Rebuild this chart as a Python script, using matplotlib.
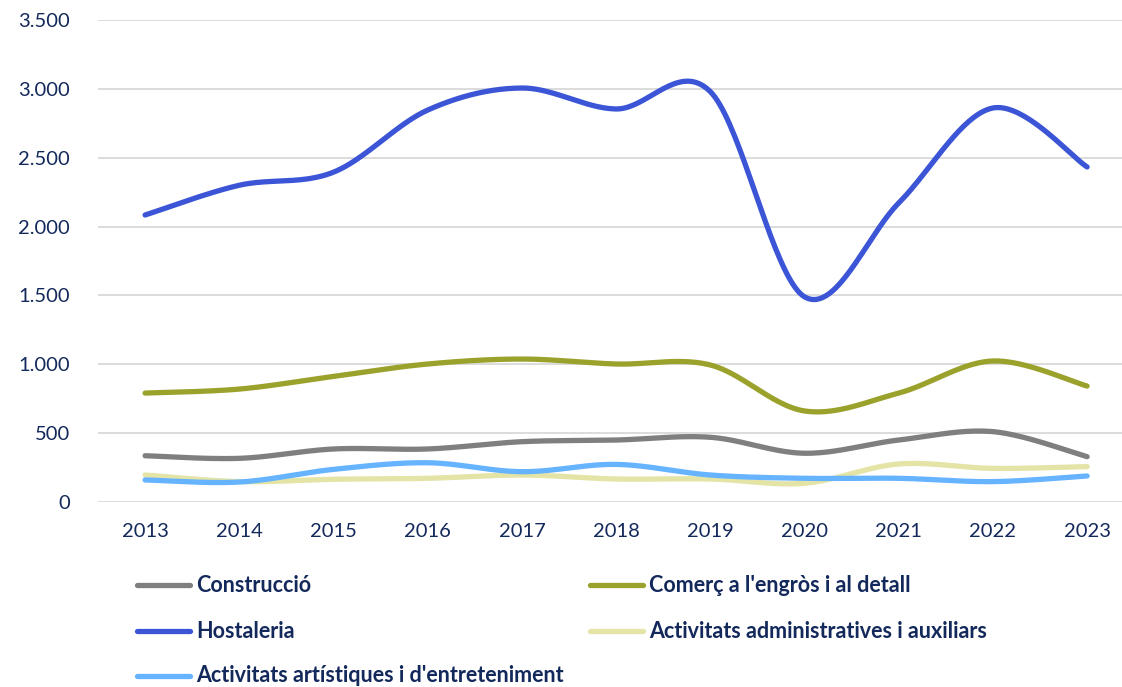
import numpy as np
import matplotlib
matplotlib.use("Agg")
import matplotlib.pyplot as plt
from matplotlib.lines import Line2D

years = ["2013", "2014", "2015", "2016", "2017", "2018", "2019", "2020", "2021", "2022", "2023"]

construccio = [336, 317, 385, 385, 438, 450, 470, 354, 450, 511, 329]
comerc = [791, 820, 912, 1002, 1038, 1002, 995, 661, 791, 1024, 842]
hostaleria = [2084, 2300, 2395, 2846, 3006, 2854, 2980, 1490, 2171, 2861, 2433]
administratives = [196, 148, 165, 172, 196, 167, 167, 136, 276, 244, 257]
artistiques = [160, 145, 237, 285, 220, 273, 196, 172, 172, 148, 189]

series = [
    ("Construcció", construccio, "#7F7F7F"),
    ("Comerç a l'engròs i al detall", comerc, "#9BA22C"),
    ("Hostaleria", hostaleria, "#3B55D6"),
    ("Activitats administratives i auxiliars", administratives, "#E3E4A6"),
    ("Activitats artístiques i d'entreteniment", artistiques, "#66B3FF"),
]

text_color = "#13295B"


def smooth(xs, ys, n=40):
    pts = np.column_stack([xs, ys]).astype(float)
    out = []
    m = len(pts)
    for i in range(m - 1):
        p0 = pts[i]
        p3 = pts[i + 1]
        prev = pts[i - 1] if i > 0 else pts[i]
        nxt = pts[i + 2] if i + 2 < m else pts[i + 1]
        c1 = p0 + (p3 - prev) / 6.0
        c2 = p3 - (nxt - p0) / 6.0
        t = np.linspace(0, 1, n)[:, None]
        seg = ((1 - t) ** 3) * p0 + 3 * ((1 - t) ** 2) * t * c1 + 3 * (1 - t) * t ** 2 * c2 + t ** 3 * p3
        if i > 0:
            seg = seg[1:]
        out.append(seg)
    out = np.vstack(out)
    return out[:, 0], out[:, 1]


W, H = 1122, 687
fig = plt.figure(figsize=(W / 100, H / 100), dpi=100)
ax = fig.add_axes([98 / W, (H - 502) / H, (W - 98) / W, (502 - 20) / H])

x = np.arange(len(years))
for name, vals, col in series:
    sx, sy = smooth(x, vals)
    ax.plot(sx, sy, color=col, lw=3.8, solid_capstyle="round", solid_joinstyle="round")

ax.set_xlim(-0.5, (W - 98) / 94.2 - 0.5)
ax.set_ylim(0, 3500)
ax.set_yticks(np.arange(0, 3501, 500))
ax.set_yticklabels([f"{v:,}".replace(",", ".") for v in range(0, 3501, 500)])
ax.set_xticks(x)
ax.set_xticklabels(years)
ax.grid(axis="y", color="#D9D9D9", lw=1.3)
ax.set_axisbelow(True)
for s in ax.spines.values():
    s.set_visible(False)
ax.tick_params(axis="both", length=0, labelsize=14.5, labelcolor=text_color)
ax.tick_params(axis="y", pad=20)
ax.tick_params(axis="x", pad=15)
for lab in ax.get_xticklabels() + ax.get_yticklabels():
    lab.set_family(["Lato", "DejaVu Sans"])

# legend
legend_pos = [
    (137, 585), (590, 585),
    (137, 631), (590, 631),
    (137, 676),
]
for (name, vals, col), (lx, ly) in zip(series, legend_pos):
    fy = 1 - ly / H
    fig.add_artist(Line2D([lx / W, (lx + 53) / W], [fy, fy], transform=fig.transFigure,
                          color=col, lw=3.8, solid_capstyle="round"))
    fig.text((lx + 59) / W, fy, name, ha="left", va="center", fontsize=15.5,
             fontweight="bold", color=text_color, family=["Lato", "DejaVu Sans"])

fig.savefig("out.png", dpi=100)
